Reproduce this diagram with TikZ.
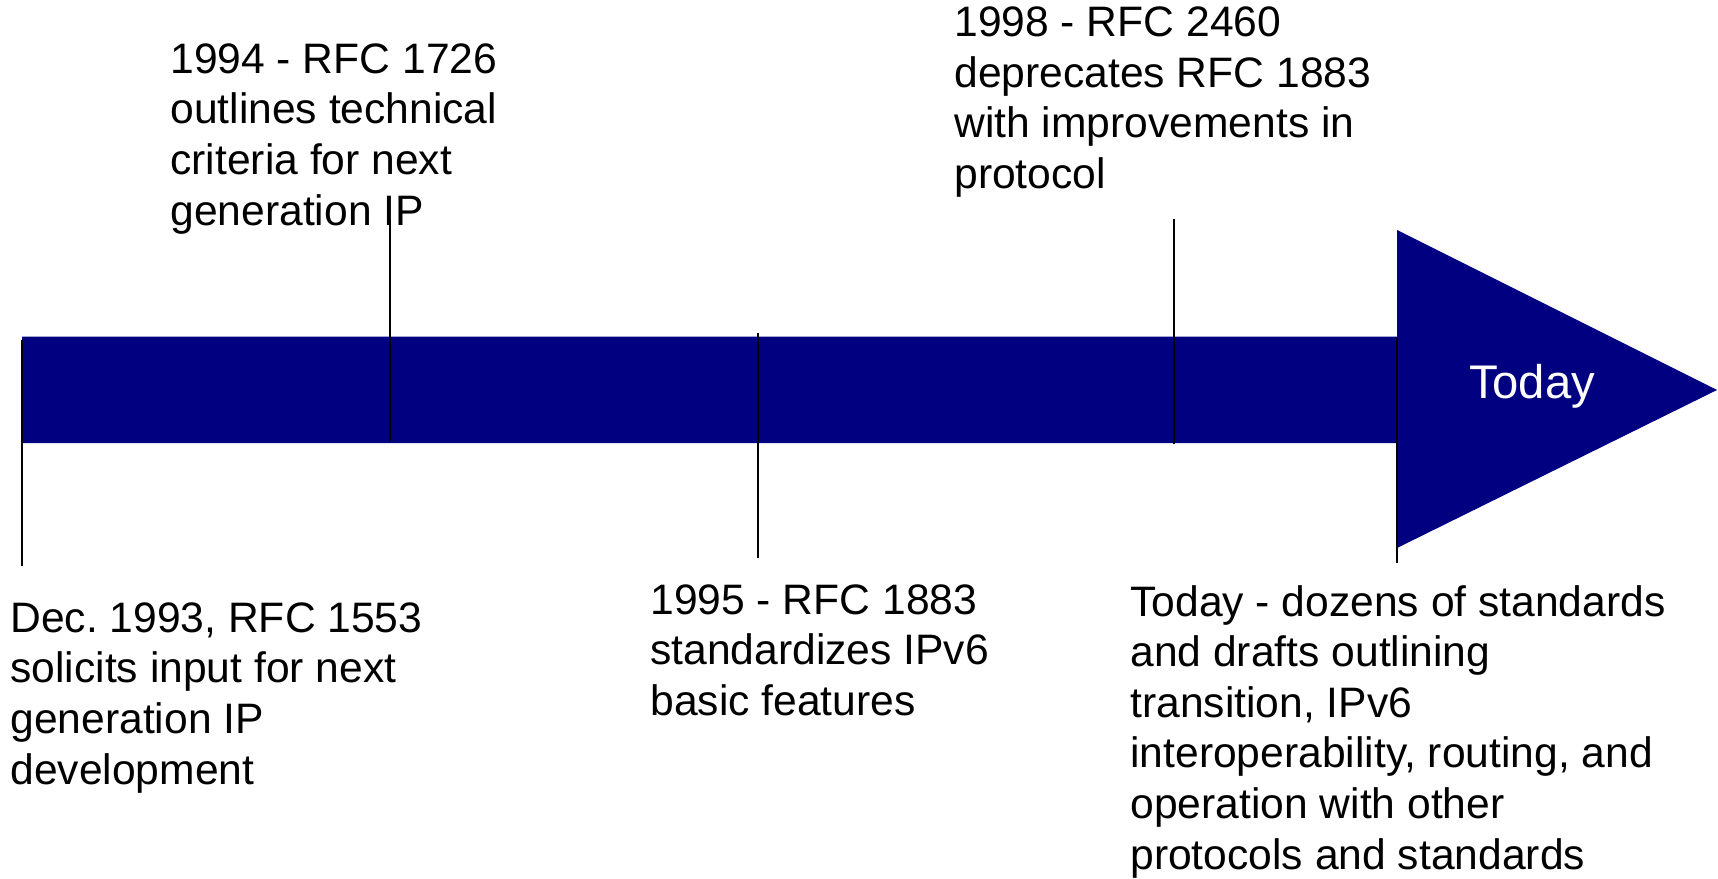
\documentclass[tikz,border=0pt]{standalone}
\usepackage{fontspec}
\setmainfont{Liberation Sans}
\frenchspacing
\definecolor{barnavy}{HTML}{000080}
\begin{document}
\begin{tikzpicture}[x=0.5pt,y=-0.5pt,
  label/.style={anchor=base west,inner sep=0pt,align=left,
    font=\fontsize{21.3pt}{25.3pt}\selectfont,text=black},
  tick/.style={draw=black,line width=0.9pt},
  bar/.style={fill=barnavy,draw=none}]
\useasboundingbox (0,0) rectangle (1718,878);
% arrow body and head
\path[bar] (22,336.5) -- (1397,336.5) -- (1397,230) -- (1717,390) -- (1397,548)
  -- (1397,443) -- (22,443) -- cycle;
\node[anchor=base,inner sep=0pt,text=white,font=\fontsize{23.6pt}{27pt}\selectfont] (today) at (1532,398) {Today};
% tick coordinates
\coordinate (t1a) at (22,340);   \coordinate (t1b) at (22,566);
\coordinate (t2a) at (390,220);  \coordinate (t2b) at (390,441);
\coordinate (t3a) at (758,333);  \coordinate (t3b) at (758,558);
\coordinate (t4a) at (1174,219); \coordinate (t4b) at (1174,444);
\coordinate (t5a) at (1397,338); \coordinate (t5b) at (1397,563);
\draw[tick] (t1a) -- (t1b);
\draw[tick] (t2a) -- (t2b);
\draw[tick] (t3a) -- (t3b);
\draw[tick] (t4a) -- (t4b);
\draw[tick] (t5a) -- (t5b);
% labels (anchored at the baseline of their last line)
\node[label] (l1994) at (170,225) {1994 - RFC 1726\\outlines technical\\criteria for next\\generation IP};
\node[label] (l1998) at (954,188.5) {1998 - RFC 2460\\deprecates RFC 1883\\with improvements in\\protocol};
\node[label] (l1993) at (10,784) {Dec. 1993, RFC 1553\\solicits input for next\\generation IP\\development};
\node[label] (l1995) at (650,715.5) {1995 - RFC 1883\\standardizes IPv6\\basic features};
\node[label] (lnow) at (1130,869) {Today - dozens of standards\\and drafts outlining\\transition, IPv6\\interoperability, routing, and\\operation with other\\protocols and standards};
\end{tikzpicture}
\end{document}
